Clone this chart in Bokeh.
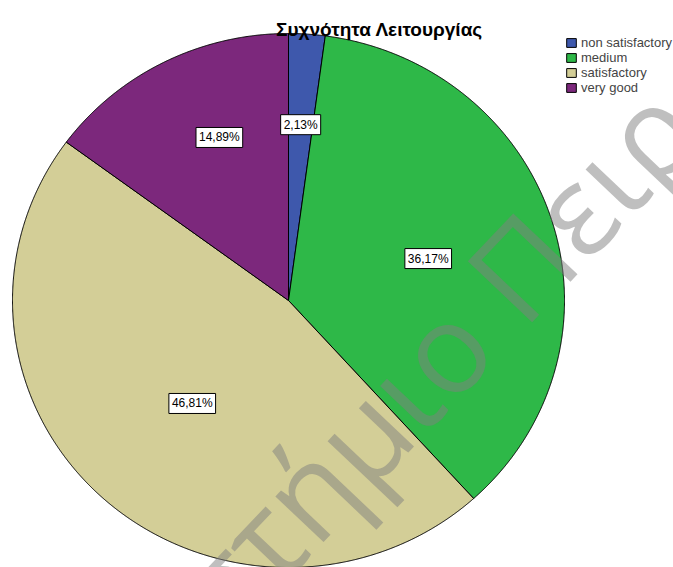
import numpy as np
from bokeh.plotting import figure
from bokeh.models import Range1d, Label, ColumnDataSource, Legend, LegendItem
from bokeh.core.properties import value
from bokeh.embed import file_html
from bokeh.resources import INLINE

# ---- data ----
categories = ["non satisfactory", "medium", "satisfactory", "very good"]
counts = [1, 17, 22, 7]
pct_labels = ["2,13%", "36,17%", "46,81%", "14,89%"]
colors = ["#3E58AC", "#2EB848", "#D3CE97", "#7C287C"]
title_text = "Συχνότητα Λειτουργίας"
watermark_text = "Πανεπιστήμιο Πειραιώς"

# ---- layout constants ----
W, H = 673, 567
CX, CY = 288, 300     # pie centre in px
RX, RY = 276, 267     # pie radii in px
label_r = [0.66, 0.53, 0.52, 0.66]
label_dtheta = [0.0, 0.0, 0.0, 4.5]

p = figure(width=W, height=H, output_backend="svg", toolbar_location=None,
           x_range=Range1d(-CX / RX, (W - CX) / RX),
           y_range=Range1d(-(H - CY) / RY, CY / RY),
           x_axis_location=None, y_axis_location=None,
           min_border=0, min_border_left=0, min_border_right=0,
           min_border_top=0, min_border_bottom=0,
           outline_line_color=None, background_fill_color="white",
           border_fill_color="white")
p.grid.visible = False

total = float(sum(counts))
fr = np.array(counts) / total
ends = np.cumsum(fr) * 2 * np.pi
starts = ends - fr * 2 * np.pi
xs, ys = [], []
for a0, a1 in zip(starts, ends):
    t = np.linspace(a0, a1, max(3, int(300 * (a1 - a0))))
    xs.append([0.0] + list(np.sin(t)) + [0.0])
    ys.append([0.0] + list(np.cos(t)) + [0.0])
src = ColumnDataSource(dict(xs=xs, ys=ys, color=colors, cat=categories))
r = p.patches("xs", "ys", source=src, fill_color="color", line_color="black",
              line_width=1)

# watermark
wx = (381 - CX) / RX
wy = (CY - 410) / RY
p.text(x=[wx], y=[wy], text=[watermark_text], angle=46.5, angle_units="deg",
       text_font=value("Open Sans"), text_font_size="124px",
       text_color="#808080", text_alpha=0.5, text_align="center",
       text_baseline="alphabetic")

# percentage labels
mids = (starts + ends) / 2
for i, txt in enumerate(pct_labels):
    th = mids[i] + np.deg2rad(label_dtheta[i])
    lx, ly = label_r[i] * np.sin(th), label_r[i] * np.cos(th)
    shadow = Label(x=lx, y=ly, x_offset=1.5, y_offset=-1.5, text=txt,
                   text_font="Liberation Sans", text_font_size="12px",
                   text_align="center", text_baseline="middle", text_alpha=0,
                   background_fill_color="#9a9a9a", border_line_color="#9a9a9a",
                   border_line_width=1, padding=3)
    p.add_layout(shadow)
    lab = Label(x=lx, y=ly, text=txt,
                text_font="Liberation Sans", text_font_size="12px",
                text_align="center", text_baseline="middle", text_color="black",
                background_fill_color="white", border_line_color="black",
                border_line_width=1, padding=3)
    p.add_layout(lab)

# title
p.add_layout(Label(x=379, y=H - 29, x_units="screen", y_units="screen",
                   text=title_text, text_font="Liberation Sans",
                   text_font_style="bold", text_font_size="19px",
                   text_align="center", text_baseline="alphabetic",
                   text_color="black"))

items = [LegendItem(label=c, renderers=[r], index=i) for i, c in enumerate(categories)]
legend = Legend(items=items, location=(565, 472), glyph_width=12, glyph_height=11,
                label_text_font="Liberation Sans", label_text_font_size="13px",
                label_height=12, spacing=0, padding=0, margin=0,
                border_line_color=None, background_fill_alpha=0, label_standoff=4)
p.add_layout(legend)

open("out.html", "w").write(file_html(p, INLINE))
